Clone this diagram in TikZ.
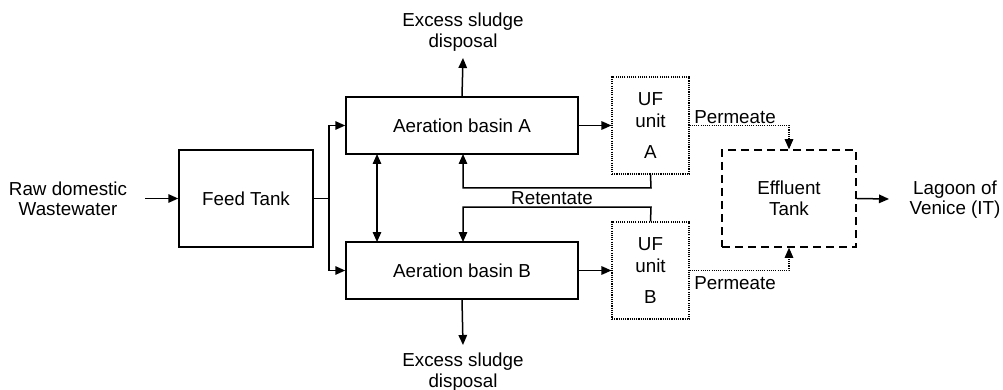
\documentclass[tikz,border=0pt]{standalone}
\usepackage{fontspec}
\setmainfont{Liberation Sans}
\usetikzlibrary{arrows.meta}
\begin{document}
\begin{tikzpicture}[x=1pt,y=-1pt,
  every node/.style={font=\fontsize{18.8}{20.5}\selectfont, align=center, inner sep=0pt},
  box/.style={draw, line width=1.5pt, minimum width=#1},
  ufbox/.style={draw, line width=1.1pt, dash pattern=on 1.1pt off 1.1pt, minimum width=77pt, minimum height=97pt},
  effbox/.style={draw, line width=1.5pt, dash pattern=on 8pt off 5pt, minimum width=134pt, minimum height=97pt},
  flow/.style={line width=1.5pt, -{Triangle[length=10pt,width=8.5pt]}},
  perm/.style={line width=1.1pt, dash pattern=on 1.1pt off 1.1pt, -{Triangle[length=10pt,width=8.5pt]}},
  plain/.style={line width=1.5pt}
]
\useasboundingbox (0,0) rectangle (1003,390);
\node (raw) at (68,199) {Raw domestic\\Wastewater};
\node[box=134pt, minimum height=97pt] (feed) at (246,198.5) {Feed Tank};
\node[box=232pt, minimum height=57pt] (A) at (462,125.5) {Aeration basin A};
\node[box=232pt, minimum height=57pt] (B) at (462,270.5) {Aeration basin B};
\node[ufbox] (ufA) at (650.5,125.5) {UF\\[1.5pt]unit\\[11pt]A};
\node[ufbox] (ufB) at (650.5,270.5) {UF\\[1.5pt]unit\\[11pt]B};
\node[effbox] (eff) at (789,198.5) {Effluent\\Tank};
\node (lag) at (955,199.5) {Lagoon of\\Venice (IT)};
\node (exA) at (463,32) {Excess sludge\\disposal};
\node (exB) at (463,372) {Excess sludge\\disposal};
\node (ret) at (552,198) {Retentate};
\node (pA) at (735,117) {Permeate};
\node (pB) at (735,283) {Permeate};
\coordinate (split) at (329,198.5);
\coordinate (rawe) at (145,198.5);

\draw[flow] (rawe) -- (feed.west);
\draw[plain] (feed.east) -- (split);
\draw[flow] (split) |- (A.west);
\draw[flow] (split) |- (B.west);
\draw[flow] (A.north) -- (463,58) coordinate (exAe);
\draw[flow] (B.south) -- (463,345) coordinate (exBe);
\draw[line width=1.5pt, {Triangle[length=10pt,width=8.5pt]}-{Triangle[length=10pt,width=8.5pt]}] (377,154) -- (377,242);
\draw[flow] (A.east) -- (ufA.west);
\draw[flow] (B.east) -- (ufB.west);
\draw[flow] (ufA.south) -- (651,188) -| (463,154);
\draw[flow] (ufB.north) -- (651,207) -| (463,242);
\draw[perm] (ufA.east) -| (eff.north);
\draw[perm] (ufB.east) -| (eff.south);
\draw[flow] (eff.east) -- (889,199);
\end{tikzpicture}
\end{document}
